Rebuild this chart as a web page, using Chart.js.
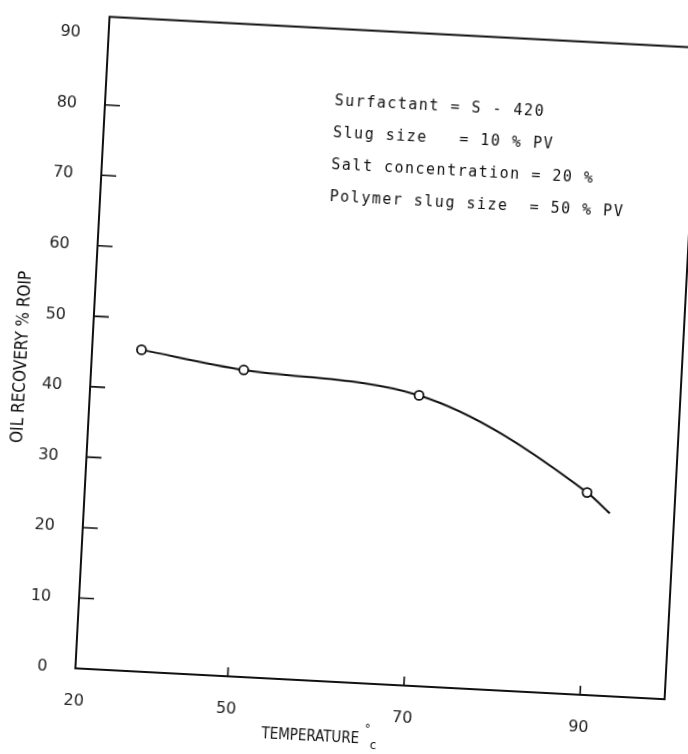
<!DOCTYPE html>
<html>
<head>
<meta charset="utf-8">
<title>Oil recovery vs temperature</title>
<script src="https://cdn.jsdelivr.net/npm/chart.js@4.4.1/dist/chart.umd.min.js"></script>
<style>
  html, body { margin: 0; padding: 0; background: #fff; overflow: hidden; }
  /* the scanned figure sits a little crooked on the page */
  #chart { display: block; transform: rotate(3deg); transform-origin: 50% 50%; }
</style>
</head>
<body>
<canvas id="chart" width="688" height="754"></canvas>
<script>
/* ─── Data ─── */
const TEMPERATURE = [38.3, 50, 70, 89.6, 92.3];
const RECOVERY    = [45.6, 43.5, 41.2, 28.7, 25.9];
const MARKED      = [true, true, true, true, false]; // last one is the curve running on past the data

const X_TICKS       = [50, 70, 90];
const X_START_LABEL = '20';                 // label printed at the corner of the axis
const Y_TICKS       = [0, 10, 20, 30, 40, 50, 60, 70, 80, 90];
const X_MIN = 32.7, X_MAX = 99.6;
const Y_MIN = 0,    Y_MAX = 92.5;

const NOTES = [
  'Surfactant = S - 420',
  'Slug size   = 10 % PV',
  'Salt concentration = 20 %',
  'Polymer slug size  = 50 % PV',
];
const NOTE_AT = { x: 58.7, y: 82.2 };       // where the first note line starts (data units)

const X_TITLE = 'TEMPERATURE';
const X_TITLE_UNIT = ['°', 'c'];
const X_TITLE_AT = 59.7;
const Y_TITLE = 'OIL RECOVERY % ROIP';
const Y_TITLE_AT = 43.7;

const TITLE_FONT = '"DejaVu Sans Condensed", "Liberation Sans Narrow", "DejaVu Sans", sans-serif';
const INK = '#111';

/* ─── Frame, inward ticks, notes and axis titles ─── */
const paperFrame = {
  id: 'paperFrame',
  afterDraw(chart) {
    const { ctx, chartArea: a, scales: { x, y } } = chart;
    ctx.save();
    ctx.strokeStyle = INK;
    ctx.lineWidth = 2;
    ctx.strokeRect(a.left, a.top, a.right - a.left, a.bottom - a.top);

    // tick marks point into the plot
    ctx.lineWidth = 1.6;
    ctx.beginPath();
    Y_TICKS.filter(v => v > Y_MIN && v < 90).forEach(v => {
      const py = y.getPixelForValue(v);
      ctx.moveTo(a.left, py);
      ctx.lineTo(a.left + 15, py);
    });
    X_TICKS.forEach(v => {
      const px = x.getPixelForValue(v);
      ctx.moveTo(px, a.bottom);
      ctx.lineTo(px, a.bottom - 9);
    });
    ctx.stroke();

    // experiment conditions
    ctx.fillStyle = INK;
    ctx.font = '15px "DejaVu Sans Mono", monospace';
    ctx.letterSpacing = '1.5px';
    ctx.textBaseline = 'middle';
    ctx.textAlign = 'left';
    const nx = x.getPixelForValue(NOTE_AT.x);
    const ny = y.getPixelForValue(NOTE_AT.y);
    NOTES.forEach((line, i) => ctx.fillText(line, nx, ny + i * 32));

    // x axis title, a bit left of centre like the original
    ctx.letterSpacing = '0px';
    ctx.font = '15px ' + TITLE_FONT;
    const tx = x.getPixelForValue(X_TITLE_AT);
    const ty = a.bottom + 56;
    ctx.textAlign = 'center';
    ctx.fillText(X_TITLE, tx, ty);
    const w = ctx.measureText(X_TITLE).width;
    ctx.textAlign = 'left';
    ctx.font = '13px ' + TITLE_FONT;
    ctx.fillText(X_TITLE_UNIT[0], tx + w / 2 + 5, ty - 10);
    ctx.fillText(X_TITLE_UNIT[1], tx + w / 2 + 11, ty + 6);

    // y axis title, reading upwards
    ctx.font = '17px ' + TITLE_FONT;
    ctx.textAlign = 'center';
    ctx.translate(a.left - 69, y.getPixelForValue(Y_TITLE_AT));
    ctx.rotate(-Math.PI / 2);
    ctx.fillText(Y_TITLE, 0, 0);
    ctx.restore();
  },
};

/* ─── Chart ─── */
new Chart(document.getElementById('chart'), {
  type: 'line',
  data: {
    datasets: [{
      data: TEMPERATURE.map((t, i) => ({ x: t, y: RECOVERY[i] })),
      borderColor: INK,
      borderWidth: 2,
      cubicInterpolationMode: 'monotone',
      pointRadius: MARKED.map(m => (m ? 4.5 : 0)),
      pointBorderWidth: 1.8,
      pointBorderColor: INK,
      pointBackgroundColor: '#fff',
      fill: false,
    }],
  },
  options: {
    responsive: false,
    animation: false,
    layout: { padding: { top: 26, right: 7, left: 0, bottom: 0 } },
    plugins: { legend: { display: false }, tooltip: { enabled: false } },
    scales: {
      x: {
        type: 'linear',
        min: X_MIN,
        max: X_MAX,
        grid: { display: false },
        border: { display: false },
        afterBuildTicks: s => { s.ticks = [X_MIN, ...X_TICKS].map(v => ({ value: v })); },
        afterFit: s => { s.height = 72; },
        ticks: {
          padding: 15,
          color: '#222',
          font: { size: 16, family: '"DejaVu Sans", sans-serif' },
          callback: v => (v === X_MIN ? X_START_LABEL : String(v)),
        },
      },
      y: {
        min: Y_MIN,
        max: Y_MAX,
        grid: { display: false },
        border: { display: false },
        afterBuildTicks: s => { s.ticks = Y_TICKS.map(v => ({ value: v })); },
        afterFit: s => { s.width = 91; },
        ticks: {
          padding: 20,
          color: '#222',
          font: { size: 16, family: '"DejaVu Sans", sans-serif' },
        },
      },
    },
  },
  plugins: [paperFrame],
});
</script>
</body>
</html>
